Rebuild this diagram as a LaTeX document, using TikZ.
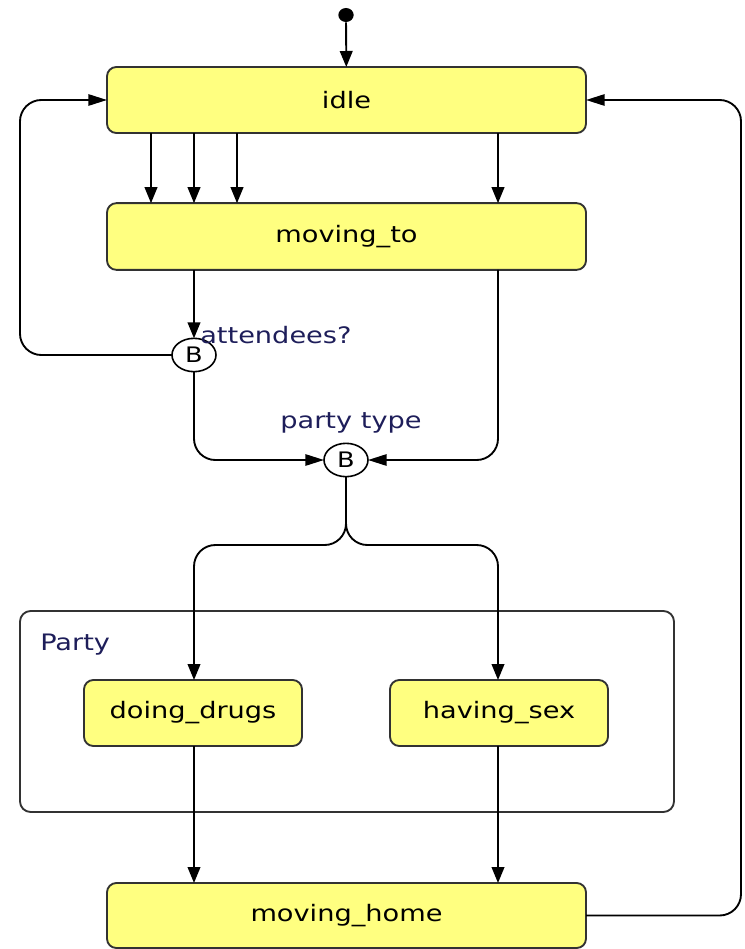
\documentclass[tikz,border=0pt]{standalone}
\usepackage{fontspec}
\setmainfont{DejaVu Sans}[FakeStretch=1.2]
\usetikzlibrary{arrows.meta,shapes.geometric}
\definecolor{statefill}{RGB}{255,255,128}
\definecolor{stateline}{RGB}{50,50,50}
\definecolor{labelink}{RGB}{30,30,90}
\begin{document}
\begin{tikzpicture}[x=0.75pt,y=-0.75pt,
  state/.style={draw=stateline, line width=1.4pt, fill=statefill, rounded corners=7pt,
    minimum height=49.5pt, inner sep=0pt, outer sep=0pt,
    font=\fontsize{17}{20}\selectfont, text=black},
  branch/.style={ellipse, draw=black, line width=1.2pt, fill=white, minimum width=33pt,
    minimum height=25pt, inner sep=0pt, outer sep=0pt, font=\fontsize{16}{18}\selectfont},
  flow/.style={line width=1.4pt, rounded corners=16pt},
  vtip/.style={-{Triangle[length=12pt,width=9.5pt]}},
  htip/.style={-{Triangle[length=14pt,width=8.5pt]}},
  note/.style={text=labelink, font=\fontsize{17}{20}\selectfont, inner sep=0pt}]
\useasboundingbox (0,0) rectangle (745,949);

% composite state frame
\node[draw=stateline, line width=1.4pt, rounded corners=8pt, minimum width=490.5pt,
      minimum height=150.75pt, inner sep=0pt] (party) at (347,711.5) {};
\node[note, anchor=base west] (partylbl) at (40,650) {Party};

% states
\node[ellipse, fill=black, minimum width=11.5pt, minimum height=10.5pt, inner sep=0pt] (init) at (346,15) {};
\node[state, minimum width=359.25pt] (idle) at (346.5,100) {idle};
\node[state, minimum width=359.25pt, minimum height=50pt] (moving) at (346.5,236.5) {moving\_to};
\node[state, minimum width=163.5pt] (drugs) at (193,713) {doing\_drugs};
\node[state, minimum width=163.5pt] (sex) at (499,713) {having\_sex};
\node[state, minimum width=359.25pt, minimum height=48.75pt] (home) at (346.5,915.5) {moving\_home};

% branch points
\node[branch] (b1) at (194,355) {B};
\node[branch] (b2) at (346,460) {B};
\node[note, anchor=base west] (b1lbl) at (200,343) {attendees?};
\node[note, anchor=base] (b2lbl) at (351,428) {party type};

% routing columns and rows
\coordinate (x1) at (151,0);
\coordinate (x2) at (194,0);
\coordinate (x3) at (237,0);
\coordinate (x4) at (498,0);
\coordinate (lw) at (20,0);
\coordinate (re) at (741,0);
\coordinate (split) at (0,545);

% transitions
\draw[flow,vtip] (init) -- (idle);
\foreach \c in {x1,x2,x3,x4}
  \draw[flow,vtip] (idle.south -| \c) -- (moving.north -| \c);
\draw[flow,vtip] (moving.south -| x2) -- (b1);
\draw[flow,htip] (b1.west) -- (b1 -| lw) -- (idle -| lw) -- (idle.west);
\draw[flow,htip] (b1.south) |- (b2.west);
\draw[flow,htip] (moving.south -| x4) |- (b2.east);
\draw[flow,vtip] (b2.south) -- (b2 |- split) -- (split -| x2) -- (drugs.north -| x2);
\draw[flow,vtip] (b2.south) -- (b2 |- split) -- (split -| x4) -- (sex.north -| x4);
\draw[flow,vtip] (drugs.south -| x2) -- (home.north -| x2);
\draw[flow,vtip] (sex.south -| x4) -- (home.north -| x4);
\draw[flow,htip] (home.east) -- (home -| re) -- (idle -| re) -- (idle.east);
\end{tikzpicture}
\end{document}
